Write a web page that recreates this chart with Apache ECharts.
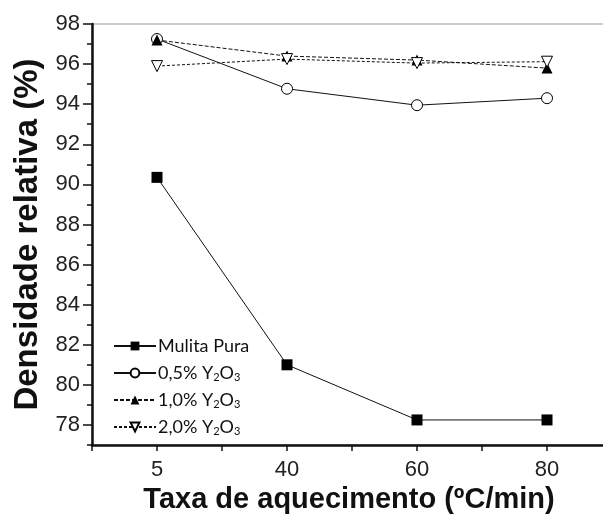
<!DOCTYPE html>
<html><head><meta charset="utf-8">
<script src="https://cdn.jsdelivr.net/npm/echarts@6/dist/echarts.min.js"></script>
<style>html,body{margin:0;padding:0;background:#fff;overflow:hidden}#c{width:603px;height:516px}</style>
</head><body><div id="c"></div>
<script>
const categories = ['5', '40', '60', '80'];
const mulitaPura = [90.35, 81.0, 78.25, 78.25];
const y2o3_05 = [97.25, 94.77, 93.95, 94.3];
const y2o3_10 = [97.2, 96.4, 96.2, 95.8];
const y2o3_20 = [95.9, 96.25, 96.05, 96.12];
const yMajorTicks = [78, 80, 82, 84, 86, 88, 90, 92, 94, 96, 98];
const seriesNames = ['Mulita Pura', '0,5% Y2O3', '1,0% Y2O3', '2,0% Y2O3'];

const toPts = arr => arr.map((v, i) => [i, v]);
const chart = echarts.init(document.getElementById('c'));
const FONT = '"Liberation Sans", Arial, sans-serif';
const blk = '#111';

function legendFmt(name) {
  const m = name.match(/^(.*)Y2O3$/);
  if (!m) return name;
  return m[1] + 'Y{sub|2}O{sub|3}';
}

chart.setOption({
  animation: false,
  grid: {
    left: 92, right: -9, top: 24, bottom: 71, outerBoundsMode: 'none', containLabel: false,
    show: true, borderColor: '#999', borderWidth: 1, backgroundColor: 'transparent'
  },
  legend: {
    orient: 'vertical', left: 108, top: 331,
    itemWidth: 42, itemHeight: 11, itemGap: 5,
    data: seriesNames,
    formatter: legendFmt,
    textStyle: {
      fontFamily: 'Lato, "Liberation Sans", sans-serif', fontSize: 18, color: blk, lineHeight: 20, padding: [0, 0, 0, -3],
      rich: { sub: { fontSize: 11, fontFamily: 'Lato, sans-serif', color: blk, verticalAlign: 'bottom', lineHeight: 12, padding: [11, 0, 0, 0] } }
    }
  },
  xAxis: [{
    type: 'value', min: -0.5, max: 3.5, interval: 0.5,
    name: 'Taxa de aquecimento (ºC/min)', nameLocation: 'middle', nameGap: 40,
    nameTextStyle: { fontFamily: FONT, fontWeight: 'bold', fontSize: 29, color: blk, padding: [0, 6, 0, 0] },
    axisLine: { onZero: false, lineStyle: { color: blk, width: 2.5 } },
    axisTick: { length: 6, lineStyle: { color: blk, width: 1.5 } },
    axisLabel: {
      margin: 14, fontFamily: FONT, fontSize: 22, color: '#222',
      formatter: v => (Number.isInteger(v) && categories[v] !== undefined) ? categories[v] : ''
    },
    splitLine: { show: false }
  }],
  yAxis: [{
    type: 'value', min: 77, max: 98, interval: 1, position: 'left',
    name: 'Densidade relativa (%)', nameLocation: 'middle', nameGap: 46,
    nameTextStyle: { fontFamily: FONT, fontWeight: 'bold', fontSize: 33, color: blk },
    axisLine: { show: true, onZero: false, lineStyle: { color: blk, width: 2.5 } },
    axisTick: { length: 5, lineStyle: { color: blk, width: 1.5 } },
    axisLabel: {
      margin: 12, fontFamily: FONT, fontSize: 22, color: '#222',
      formatter: v => yMajorTicks.includes(v) ? String(v) : ''
    },
    splitLine: { show: false }
  }, {
    type: 'value', min: 77, max: 98, position: 'left',
    axisLine: { show: false, onZero: false, lineStyle: { color: 'transparent' } },
    axisTick: { show: true, length: 9, customValues: yMajorTicks, lineStyle: { color: blk, width: 1.5 } },
    axisLabel: { show: false }, splitLine: { show: false }
  }],
  series: [{
    name: seriesNames[0], type: 'line', data: toPts(mulitaPura),
    symbol: 'rect', symbolSize: 11,
    lineStyle: { color: blk, width: 1 },
    itemStyle: { color: '#000', borderWidth: 0 }
  }, {
    name: seriesNames[1], type: 'line', data: toPts(y2o3_05),
    symbol: 'circle', symbolSize: 11,
    lineStyle: { color: blk, width: 1 },
    itemStyle: { color: '#fff', borderColor: '#000', borderWidth: 1 }
  }, {
    name: seriesNames[2], type: 'line', data: toPts(y2o3_10),
    symbol: 'triangle', symbolSize: 11,
    lineStyle: { color: blk, width: 1, type: [4, 2] },
    itemStyle: { color: '#000', borderWidth: 0 }
  }, {
    name: seriesNames[3], type: 'line', data: toPts(y2o3_20),
    symbol: 'triangle', symbolSize: 11, symbolRotate: 180,
    lineStyle: { color: blk, width: 1, type: [3, 2] },
    itemStyle: { color: '#fff', borderColor: '#000', borderWidth: 1 }
  }]
});
</script></body></html>
